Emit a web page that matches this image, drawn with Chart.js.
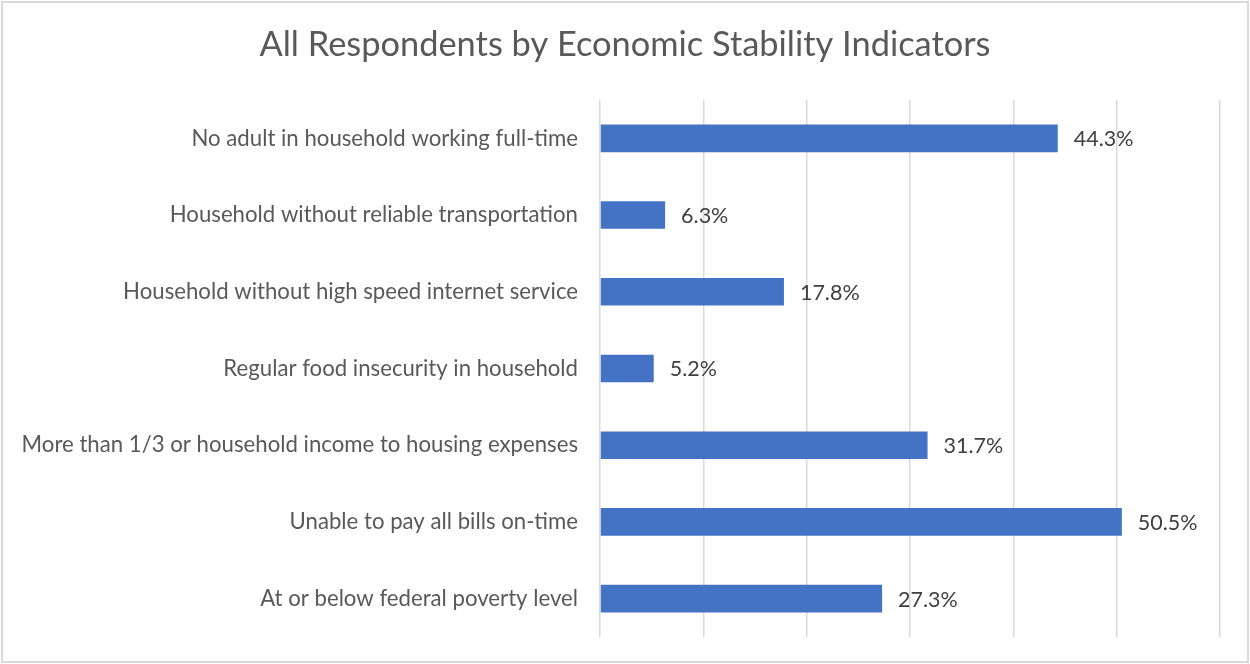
<!DOCTYPE html>
<html>
<head>
<meta charset="utf-8">
<script src="https://cdn.jsdelivr.net/npm/chart.js@4.4.1/dist/chart.umd.min.js"></script>
<style>
  html, body { margin: 0; padding: 0; background: #ffffff; }
  canvas { display: block; }
</style>
</head>
<body>
<canvas id="chart" width="1250" height="664"></canvas>
<script>
const categories = [
  'No adult in household working full-time',
  'Household without reliable transportation',
  'Household without high speed internet service',
  'Regular food insecurity in household',
  'More than 1/3 or household income to housing expenses',
  'Unable to pay all bills on-time',
  'At or below federal poverty level'
];
const percentages = [44.3, 6.3, 17.8, 5.2, 31.7, 50.5, 27.3];
const chartTitle = 'All Respondents by Economic Stability Indicators';

const FONT = 'Lato, "Open Sans", sans-serif';

// White background with a thin grey frame
const framePlugin = {
  id: 'frame',
  beforeDraw(chart) {
    const ctx = chart.ctx;
    ctx.save();
    ctx.fillStyle = '#ffffff';
    ctx.fillRect(0, 0, chart.width, chart.height);
    ctx.strokeStyle = '#d9d9d9';
    ctx.lineWidth = 2;
    ctx.strokeRect(2, 2, chart.width - 4, chart.height - 4);
    ctx.restore();
  }
};

// Value labels just past the end of each bar
const valueLabels = {
  id: 'valueLabels',
  afterDatasetsDraw(chart) {
    const ctx = chart.ctx;
    const meta = chart.getDatasetMeta(0);
    ctx.save();
    ctx.font = '21.5px ' + FONT;
    ctx.fillStyle = '#404040';
    ctx.textAlign = 'left';
    ctx.textBaseline = 'middle';
    meta.data.forEach((bar, i) => {
      ctx.fillText(percentages[i].toFixed(1) + '%', bar.x + 16, bar.y + 1);
    });
    ctx.restore();
  }
};

new Chart(document.getElementById('chart'), {
  type: 'bar',
  data: {
    labels: categories,
    datasets: [{
      data: percentages,
      backgroundColor: '#4472C4',
      borderWidth: 0,
      barPercentage: 0.72,
      categoryPercentage: 0.5
    }]
  },
  options: {
    indexAxis: 'y',
    responsive: false,
    animation: false,
    layout: { padding: { left: 0, right: 0, top: 0, bottom: 27 } },
    plugins: {
      legend: { display: false },
      tooltip: { enabled: false },
      title: {
        display: true,
        text: chartTitle,
        color: '#595959',
        font: { family: FONT, size: 34.4, weight: 'normal', lineHeight: 1.2 },
        padding: { top: 24, bottom: 34.7 }
      }
    },
    scales: {
      x: {
        min: 0,
        max: 60,
        ticks: { display: false, stepSize: 10 },
        grid: { color: '#d9d9d9', lineWidth: 1.5, drawTicks: false },
        border: { display: false },
        afterFit(scale) { scale.height = 0; }
      },
      y: {
        grid: { display: false, drawTicks: false },
        border: { display: false },
        ticks: {
          color: '#595959',
          padding: 22,
          font: { family: FONT, size: 22.2 }
        },
        afterFit(scale) {
          scale.width = 600;
          scale.paddingTop = 0;
          scale.paddingBottom = 0;
        }
      },
      // empty strip on the right that balances the plot area
      yRight: {
        type: 'category',
        position: 'right',
        grid: { display: false, drawTicks: false },
        border: { display: false },
        ticks: { display: false },
        afterFit(scale) {
          scale.width = 30;
          scale.paddingTop = 0;
          scale.paddingBottom = 0;
        }
      }
    }
  },
  plugins: [framePlugin, valueLabels]
});
</script>
</body>
</html>
